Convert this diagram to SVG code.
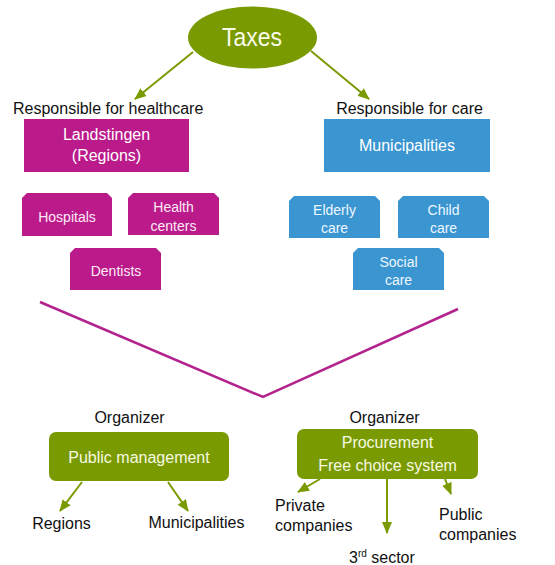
<svg xmlns="http://www.w3.org/2000/svg" width="555" height="565" viewBox="0 0 555 565">
<style>
text{font-family:"Liberation Sans",Arial,sans-serif;}
.lbl{font-size:16px;fill:#111;}
.mag{fill:#BA1A8A;}
.blu{fill:#3A95D0;}
.grn{fill:#7A9A01;}
.tm{fill:#FDEAF6;font-size:14px;text-anchor:middle;}
.tb{fill:#EEF7FF;font-size:14px;text-anchor:middle;}
.tw{fill:#FFFFFF;font-size:16px;text-anchor:middle;}
.tg{fill:#F6F9E2;font-size:16px;text-anchor:middle;}
.arr{stroke:#7A9A01;stroke-width:2;fill:none;marker-end:url(#ah);}
</style>
<defs>
<marker id="ah" markerUnits="userSpaceOnUse" markerWidth="12" markerHeight="12" viewBox="0 0 12 12" refX="11" refY="6" orient="auto">
<path d="M0,1 L12,6 L0,11 Z" fill="#7A9A01"/>
</marker>
</defs>
<rect width="555" height="565" fill="#fff"/>
<g id="taxes">
<ellipse class="grn" cx="252.5" cy="37.5" rx="64.5" ry="31"/>
<text x="252" y="46" fill="#FAFCEA" font-size="26" text-anchor="middle" textLength="60" lengthAdjust="spacingAndGlyphs">Taxes</text>
</g>
<g id="connectors">
<line class="arr" x1="193" y1="52" x2="135" y2="99"/>
<line class="arr" x1="311" y1="51" x2="369" y2="99"/>
<polyline points="40,302 263,397 458,309" fill="none" stroke="#B3238D" stroke-width="2.5"/>
<line class="arr" x1="82" y1="482" x2="60" y2="511"/>
<line class="arr" x1="168" y1="482" x2="188" y2="511"/>
<line class="arr" x1="320" y1="479" x2="298" y2="492"/>
<line class="arr" x1="387" y1="479" x2="387" y2="533"/>
<line class="arr" x1="445" y1="479" x2="451" y2="494"/>
</g>
<g id="label-healthcare"><text class="lbl" x="13" y="114">Responsible for healthcare</text></g>
<g id="label-care"><text class="lbl" x="409.5" y="114" text-anchor="middle">Responsible for care</text></g>
<g id="landstingen">
<rect class="mag" x="24" y="119" width="165" height="53"/>
<text class="tw" x="106.5" y="140" fill="#FDEAF6">Landstingen</text>
<text class="tw" x="106.5" y="161" fill="#FDEAF6">(Regions)</text>
</g>
<g id="municipalities-top">
<rect class="blu" x="324" y="119" width="166" height="53"/>
<text class="tw" x="407" y="151" fill="#EEF7FF" font-size="17">Municipalities</text>
</g>
<g id="hospitals">
<path class="mag" d="M27,193 H107 L112,198 V236 H22 V198 Z"/>
<text class="tm" x="67" y="222">Hospitals</text>
</g>
<g id="health-centers">
<path class="mag" d="M133,193 H214 L219,198 V235 H128 V198 Z"/>
<text class="tm" x="173.5" y="212">Health</text>
<text class="tm" x="173.5" y="231">centers</text>
</g>
<g id="dentists">
<path class="mag" d="M75,248 H156 L161,253 V290 H70 V253 Z"/>
<text class="tm" x="116" y="276">Dentists</text>
</g>
<g id="elderly-care">
<path class="blu" d="M294,196 H375 L380,201 V238 H289 V201 Z"/>
<text class="tb" x="334.5" y="215">Elderly</text>
<text class="tb" x="334.5" y="233">care</text>
</g>
<g id="child-care">
<path class="blu" d="M403,196 H484 L489,201 V238 H398 V201 Z"/>
<text class="tb" x="443.5" y="215">Child</text>
<text class="tb" x="443.5" y="233">care</text>
</g>
<g id="social-care">
<path class="blu" d="M358,248 H439 L444,253 V290 H353 V253 Z"/>
<text class="tb" x="398.5" y="267">Social</text>
<text class="tb" x="398.5" y="285">care</text>
</g>
<g id="organizer-left"><text class="lbl" x="129.5" y="423" text-anchor="middle">Organizer</text></g>
<g id="organizer-right"><text class="lbl" x="384.5" y="423" text-anchor="middle">Organizer</text></g>
<g id="public-management">
<rect class="grn" x="49" y="432" width="180" height="49" rx="7"/>
<text class="tg" x="139" y="463">Public management</text>
</g>
<g id="procurement">
<rect class="grn" x="297" y="429" width="181" height="50" rx="7"/>
<text class="tg" x="387.5" y="448">Procurement</text>
<text class="tg" x="387.5" y="471">Free choice system</text>
</g>
<g id="regions"><text class="lbl" x="61.5" y="529" text-anchor="middle">Regions</text></g>
<g id="municipalities-bottom"><text class="lbl" x="196.5" y="528" text-anchor="middle">Municipalities</text></g>
<g id="private-companies">
<text class="lbl" x="275" y="511">Private</text>
<text class="lbl" x="275" y="531">companies</text>
</g>
<g id="third-sector"><text class="lbl" x="349" y="563">3<tspan font-size="10" dy="-6">rd</tspan><tspan dy="6"> sector</tspan></text></g>
<g id="public-companies">
<text class="lbl" x="439" y="520">Public</text>
<text class="lbl" x="439" y="540">companies</text>
</g>
</svg>
